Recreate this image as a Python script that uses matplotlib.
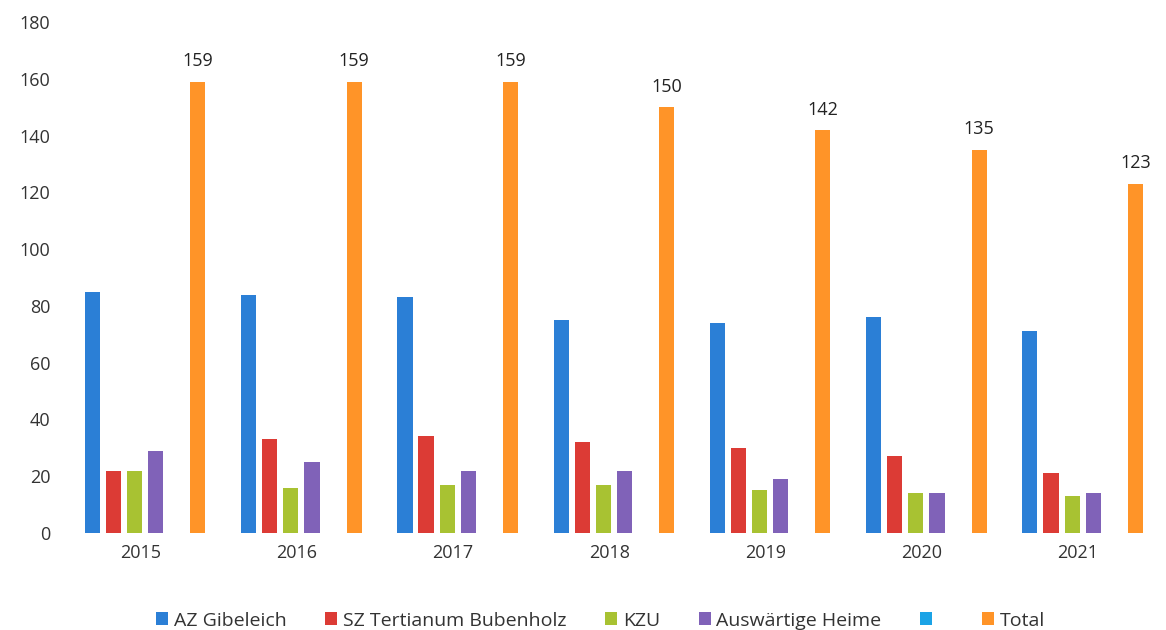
import numpy as np
import matplotlib
matplotlib.use("Agg")
import matplotlib.pyplot as plt

years = ["2015", "2016", "2017", "2018", "2019", "2020", "2021"]
az_gibeleich = [85, 84, 83, 75, 74, 76, 71]
sz_tertianum = [22, 33, 34, 32, 30, 27, 21]
kzu = [22, 16, 17, 17, 15, 14, 13]
auswaertige = [29, 25, 22, 22, 19, 14, 14]
leer = [0, 0, 0, 0, 0, 0, 0]
total = [159, 159, 159, 150, 142, 135, 123]

series = [
    ("AZ Gibeleich", az_gibeleich, "#2b7fd6"),
    ("SZ Tertianum Bubenholz", sz_tertianum, "#dc3b35"),
    ("KZU", kzu, "#a8c232"),
    ("Auswärtige Heime", auswaertige, "#8062b8"),
    (" ", leer, "#1ba3e6"),
    ("Total", total, "#ff9428"),
]

plt.rcParams['font.family'] = ['Open Sans', 'DejaVu Sans']

fig = plt.figure(figsize=(11.66, 6.3), dpi=100)
ax = fig.add_axes([0.0575, 0.154, 0.938, 0.811])

x = np.arange(len(years))
step = 0.135
width = 0.097
handles = []
for i, (name, vals, col) in enumerate(series):
    pos = x - 2.5 * step + i * step
    b = ax.bar(pos, vals, width, color=col, label=name)
    handles.append(b)
    if name == "Total":
        for p, v in zip(pos, vals):
            ax.text(p, v + 4, str(v), ha="center", va="bottom",
                    fontsize=13, color="#222222")

ax.set_xlim(-0.5, len(years) - 0.5)
ax.set_ylim(0, 180)
ax.set_yticks(range(0, 181, 20))
ax.set_xticks(x - 0.03)
ax.set_xticklabels(years)
for s in ax.spines.values():
    s.set_visible(False)
ax.tick_params(axis="both", length=0, labelsize=13, colors="#333333")
ax.tick_params(axis="y", pad=12)
ax.tick_params(axis="x", pad=8)

fig.legend(handles=handles, loc="lower center", ncol=6, frameon=False,
           bbox_to_anchor=(0.515, -0.027), fontsize=14, handlelength=0.6,
           handleheight=0.6, handletextpad=0.3, columnspacing=2.0,
           labelcolor="#333333")

fig.savefig("out.png", dpi=100)
